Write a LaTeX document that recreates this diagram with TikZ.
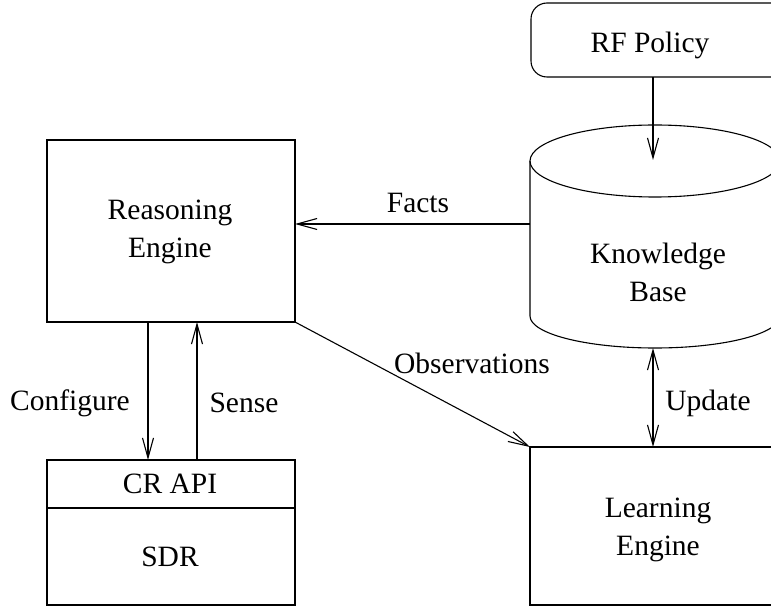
\documentclass[tikz,border=0pt]{standalone}
\usepackage{fontspec}
\setmainfont{Liberation Serif}
\usetikzlibrary{arrows.meta,shapes.geometric}
\begin{document}
\begin{tikzpicture}[x=1pt,y=-1pt,
  lbl/.style={font=\fontsize{29.5}{38}\selectfont, align=center, inner sep=0pt},
  box/.style={draw, line width=1.1pt},
  conn/.style={line width=1.1pt, -{Straight Barb[length=20pt,width=11pt,line width=1.1pt]}},
  dconn/.style={line width=1.1pt, {Straight Barb[length=20pt,width=11pt,line width=1.1pt]}-{Straight Barb[length=20pt,width=11pt,line width=1.1pt]}}]
\useasboundingbox (0,0) rectangle (771,609);

% boxes
\draw[box, rounded corners=16pt] (531,3) rectangle (790,77);
\node[lbl] (rf) at (650,45) {RF Policy};
\coordinate (rfb) at (653,77);

\draw[box] (47,140) rectangle (295,322);
\node[lbl] (re) at (170,232) {Reasoning\\Engine};
\coordinate (reR) at (295,224);
\coordinate (reBL) at (148,322);
\coordinate (reBR) at (197,322);
\coordinate (reC) at (295,322);

\draw[box] (47,460) rectangle (295,605);
\draw[box] (47,508) -- (295,508);
\node[lbl] (api) at (170,484) {CR API};
\node[lbl] (sdr) at (170,557) {SDR};
\coordinate (apiL) at (148,460);
\coordinate (apiR) at (197,460);

\draw[box] (530,447) rectangle (790,605);
\node[lbl] (le) at (658,530) {Learning\\Engine};
\coordinate (leT) at (653,447);
\coordinate (leC) at (530,447);

% knowledge base cylinder (y axis points down, so angle 90 is the lower side)
\draw[box] (655,161) ellipse[x radius=125, y radius=36];
\draw[box] (530,161) -- (530,316)
  arc[start angle=180, end angle=0, x radius=125, y radius=32]
  -- (780,161);
\node[lbl] (kb) at (658,272) {Knowledge\\Base};
\coordinate (kbL) at (530,224);
\coordinate (kbT) at (653,160);
\coordinate (kbB) at (653,348);

% connectors
\draw[conn] (rfb) -- (kbT);
\draw[conn] (kbL) -- (reR);
\draw[conn] (reBL) -- (apiL);
\draw[conn] (apiR) -- (reBR);
\draw[conn] (reC) -- (leC);
\draw[dconn] (kbB) -- (leT);

% connector labels
\node[lbl] (lf) at (418,203) {Facts};
\node[lbl] (lc) at (70,403) {Configure};
\node[lbl] (ls) at (244,403) {Sense};
\node[lbl] (lo) at (472,363) {Observations};
\node[lbl] (lu) at (708,403) {Update};
\end{tikzpicture}
\end{document}
